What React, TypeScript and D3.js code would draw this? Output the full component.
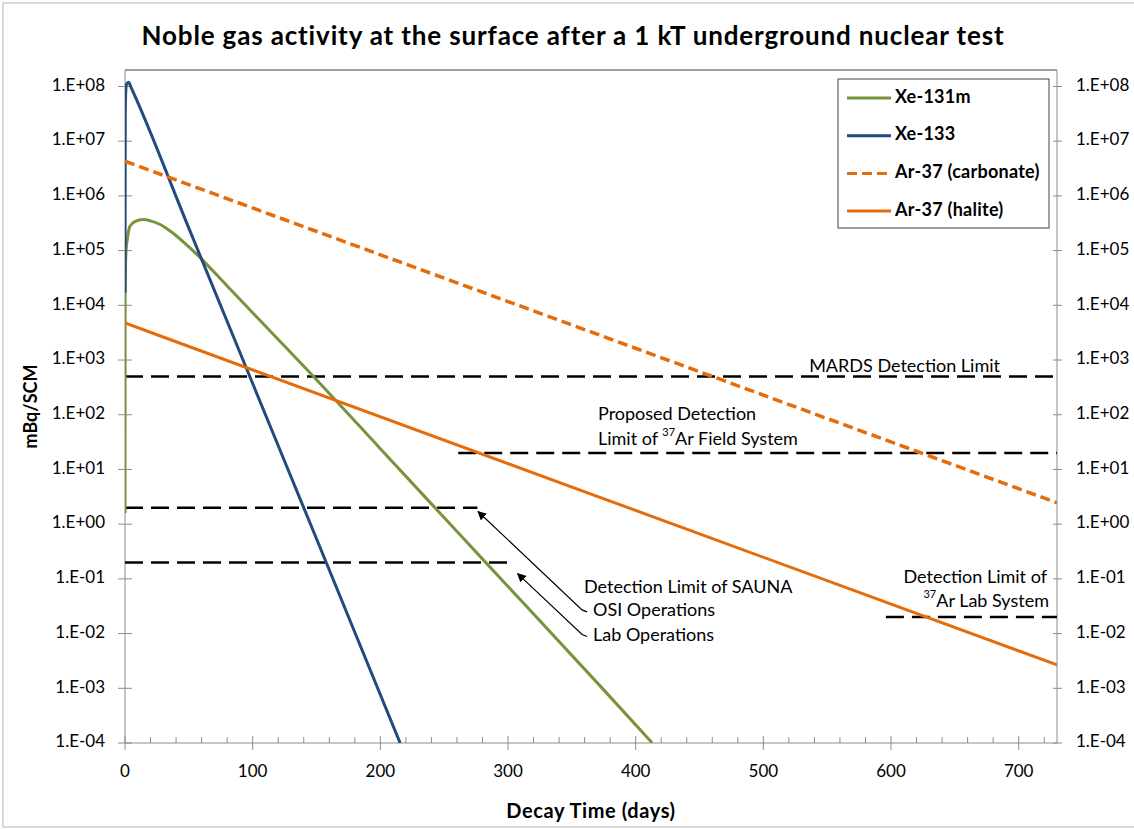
import React from "react";
import * as d3 from "d3";

// ---------- data ----------
const xe131mDays = [0, 0.1, 0.3, 0.8, 1.8, 3.9, 7.8, 14.4, 20, 27.5, 34, 40.6, 47, 53.6, 60, 80, 100, 148, 200, 242, 283, 373, 413];
const xe131mValues = [1.6, 1.7e4, 4e4, 1e5, 1.6e5, 2.8e5, 3.4e5, 3.7e5, 3.5e5, 3.0e5, 2.4e5, 1.83e5, 1.35e5, 9.8e4, 7.0e4, 2.26e4, 7.3e3, 489, 23.9, 2.09, 0.194, 1.05e-3, 1e-4];

const xe133Days = [0, 0.2, 0.6, 1.2, 2.8, 5, 50, 100, 150, 215.5];
const xe133Values = [1.7e4, 3e7, 8e7, 1.1e8, 1.2e8, 9.3e7, 2.57e5, 372, 0.54, 1e-4];

const ar37CarbDays = [0, 365, 730];
const ar37CarbValues = [4.3e6, 3.26e3, 2.46];

const ar37HaliteDays = [0, 365, 730];
const ar37HaliteValues = [4.75e3, 3.55, 2.67e-3];

const seriesNames = ["Xe-131m", "Xe-133", "Ar-37 (carbonate)", "Ar-37 (halite)"];
const seriesColors = ["#77933C", "#234A7E", "#E46C0A", "#E46C0A"];
const seriesDashed = [false, false, true, false];

// detection limits: value, start day, end day
const limitNames = ["MARDS", "Field", "SAUNA OSI", "SAUNA Lab", "Ar Lab"];
const limitValues = [500, 20, 2, 0.2, 0.02];
const limitStart = [0, 261, 0, 0, 596];
const limitEnd = [730, 730, 276, 304, 730];

const xTicks = [0, 100, 200, 300, 400, 500, 600, 700];
const yTickExps = [8, 7, 6, 5, 4, 3, 2, 1, 0, -1, -2, -3, -4];

// ---------- layout ----------
const W = 1134, H = 829;
const L = 125, T = 70, R = 1057, B = 743;
const FONT = "Lato, 'Open Sans', sans-serif";

export default function App() {
  const x = d3.scaleLinear().domain([0, 730]).range([L, R]);
  const y = d3.scaleLog().domain([1e-4, 2e8]).range([B, T]);

  const mk = (days: number[], vals: number[]) =>
    d3.line<number>().x((_, i) => x(days[i])).y((_, i) => y(vals[i])).curve(d3.curveMonotoneX)(vals) || "";

  const paths = [
    mk(xe131mDays, xe131mValues),
    mk(xe133Days, xe133Values),
    mk(ar37CarbDays, ar37CarbValues),
    mk(ar37HaliteDays, ar37HaliteValues),
  ];

  const fmt = (e: number) => "1.E" + (e >= 0 ? "+" : "-") + String(Math.abs(e)).padStart(2, "0");
  const minor = d3.range(0, 731, 20).filter((d) => d % 100 !== 0);

  // arrows in data coordinates: [tailDay, tailVal, headDay, headVal]
  const arrows = [
    [358, 0.026, 276.5, 1.7],
    [358, 0.0092, 307.5, 0.125],
  ];

  return (
    <svg width={W} height={H} style={{ position: "absolute", left: 0, top: 0, background: "#fff" }} fontFamily={FONT}>
      <defs>
        <clipPath id="plot">
          <rect x={L} y={T} width={R - L} height={B - T} />
        </clipPath>
        <marker id="arrow" viewBox="0 0 10 10" refX="9" refY="5" markerWidth="9" markerHeight="9" orient="auto" markerUnits="userSpaceOnUse">
          <path d="M0,0 L10,5 L0,10 z" fill="#000" />
        </marker>
      </defs>
      <rect x={3} y={3} width={W + 10} height={H - 5} fill="#fff" stroke="#c0c0c0" strokeWidth={1.2} />

      {/* title */}
      <text x={(L + R) / 2 - 18} y={38} textAnchor="middle" dominantBaseline="middle" fontWeight="bold" fontSize={26} letterSpacing={0.85} fill="#000">
        Noble gas activity at the surface after a 1 kT underground nuclear test
      </text>

      {/* plot frame */}
      <line x1={L} x2={R} y1={T} y2={T} stroke="#404040" strokeWidth={1} />
      <line x1={L} x2={L} y1={T} y2={B} stroke="#8c8c8c" strokeWidth={1} />
      <line x1={R} x2={R} y1={T} y2={B} stroke="#8c8c8c" strokeWidth={1} />
      <line x1={L} x2={R} y1={B} y2={B} stroke="#8c8c8c" strokeWidth={1} />

      {/* y ticks & labels */}
      {yTickExps.map((e) => {
        const yy = y(Math.pow(10, e));
        return (
          <g key={e}>
            <line x1={L - 7} x2={L + 7} y1={yy} y2={yy} stroke="#8c8c8c" />
            <line x1={R - 4} x2={R + 5} y1={yy} y2={yy} stroke="#8c8c8c" />
            <text x={105} y={yy} textAnchor="end" dominantBaseline="middle" fontSize={17} fill="#000">{fmt(e)}</text>
            <text x={1076} y={yy} textAnchor="start" dominantBaseline="middle" fontSize={17} fill="#000">{fmt(e)}</text>
          </g>
        );
      })}

      {/* x ticks & labels */}
      {xTicks.map((t) => (
        <g key={t}>
          <line x1={x(t)} x2={x(t)} y1={B - 7} y2={B + 7} stroke="#8c8c8c" />
          <text x={x(t)} y={773} textAnchor="middle" dominantBaseline="middle" fontSize={17} fill="#000">{t}</text>
        </g>
      ))}
      {minor.map((t) => (
        <line key={"m" + t} x1={x(t)} x2={x(t)} y1={B - 6} y2={B} stroke="#8c8c8c" />
      ))}

      {/* axis titles */}
      <text x={(L + R) / 2} y={813} textAnchor="middle" dominantBaseline="middle" fontWeight="bold" fontSize={20} letterSpacing={0.6} fill="#000">Decay Time (days)</text>
      <text transform={`translate(32,${(T + B) / 2}) rotate(-90)`} textAnchor="middle" dominantBaseline="middle" fontWeight="bold" fontSize={18} fill="#000">mBq/SCM</text>

      {/* detection limits */}
      {limitNames.map((n, i) => (
        <line key={n} x1={x(limitStart[i])} x2={x(limitEnd[i])} y1={y(limitValues[i])} y2={y(limitValues[i])}
          stroke="#000" strokeWidth={2.5} strokeDasharray="18,8" />
      ))}

      {/* series */}
      <g clipPath="url(#plot)">
        {paths.map((p, i) => (
          <path key={seriesNames[i]} d={p} fill="none" stroke={seriesColors[i]} strokeWidth={i === 2 ? 3.5 : 3}
            strokeDasharray={seriesDashed[i] ? "10,5" : undefined} />
        ))}
      </g>

      {/* annotations */}
      <g fontSize={18} fill="#000">
        <text x={1000} y={367} textAnchor="end" dominantBaseline="middle">MARDS Detection Limit</text>
        <text x={598} y={415} dominantBaseline="middle">Proposed Detection</text>
        <text x={598} y={440} dominantBaseline="middle">
          Limit of <tspan baselineShift="super" fontSize={11}>37</tspan>Ar Field System
        </text>
        <text x={1047} y={578} textAnchor="end" dominantBaseline="middle">Detection Limit of</text>
        <text x={1049} y={602} textAnchor="end" dominantBaseline="middle">
          <tspan baselineShift="super" fontSize={11}>37</tspan>Ar Lab System
        </text>
        <text x={584} y={588} dominantBaseline="middle">Detection Limit of SAUNA</text>
        <text x={593} y={611} dominantBaseline="middle">OSI Operations</text>
        <text x={593} y={636} dominantBaseline="middle">Lab Operations</text>
      </g>
      {arrows.map((a, i) => {
        const tx = x(a[0]), ty = y(a[1]);
        return (
          <path key={"arr" + i}
            d={`M${tx + 5},${ty + 1} L${tx},${ty - 1} L${x(a[2])},${y(a[3])}`}
            fill="none" stroke="#000" strokeWidth={1.2} markerEnd="url(#arrow)" />
        );
      })}

      {/* legend */}
      <rect x={838} y={79} width={211} height={149} fill="#fff" stroke="#404040" strokeWidth={1} />
      {seriesNames.map((n, i) => {
        const yy = 98 + i * 37.7;
        return (
          <g key={"lg" + n}>
            <line x1={847} x2={891} y1={yy} y2={yy} stroke={seriesColors[i]} strokeWidth={3}
              strokeDasharray={seriesDashed[i] ? "10,5" : undefined} />
            <text x={895} y={yy} dominantBaseline="middle" fontWeight="bold" fontSize={18} letterSpacing={0.25} fill="#000">{n}</text>
          </g>
        );
      })}
    </svg>
  );
}
